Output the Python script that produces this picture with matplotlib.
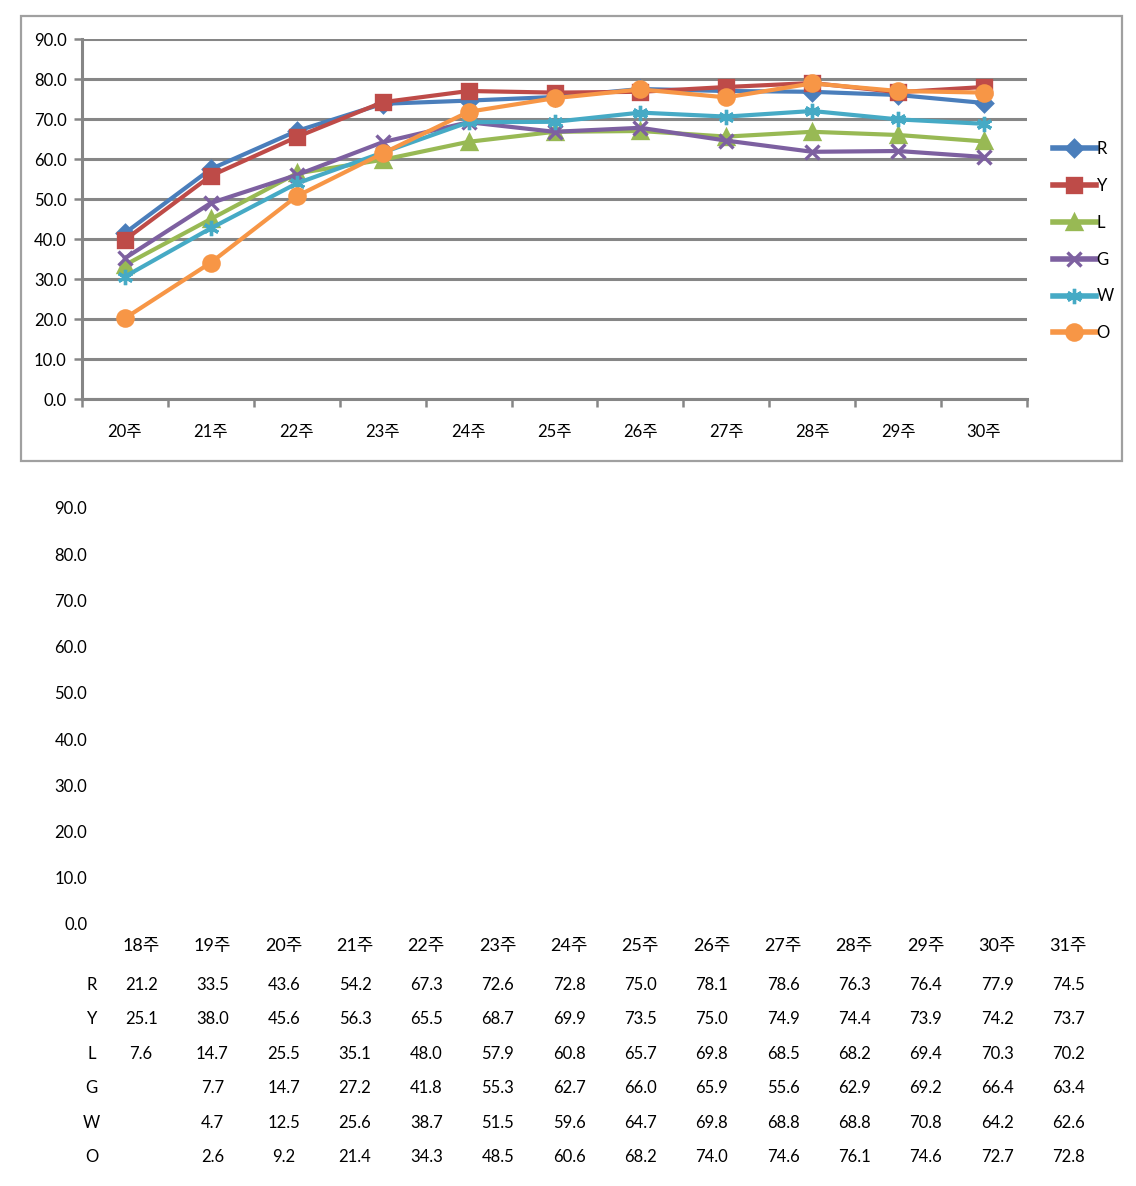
import numpy as np
import matplotlib
matplotlib.use("Agg")
import matplotlib.pyplot as plt
from matplotlib.patches import Rectangle
from matplotlib.lines import Line2D

plt.rcParams['font.family'] = ['Lato', 'Noto Sans CJK KR', 'DejaVu Sans']

# top chart: weeks 20..30
weeks = ['20주', '21주', '22주', '23주', '24주', '25주', '26주', '27주', '28주', '29주', '30주']
names = ['R', 'Y', 'L', 'G', 'W', 'O']
r_vals = [41.5, 57.5, 67.0, 73.8, 74.6, 75.5, 77.5, 77.0, 76.8, 76.0, 74.0]
y_vals = [39.8, 55.8, 65.5, 74.2, 77.0, 76.6, 76.8, 78.0, 79.0, 76.7, 78.0]
l_vals = [33.5, 45.0, 56.4, 59.8, 64.3, 66.8, 67.0, 65.6, 66.8, 66.0, 64.4]
g_vals = [35.2, 49.0, 56.0, 64.2, 69.2, 66.8, 67.8, 64.6, 61.8, 62.0, 60.5]
w_vals = [30.6, 42.7, 53.9, 61.6, 69.2, 69.3, 71.6, 70.6, 72.0, 69.9, 68.8]
o_vals = [20.2, 34.1, 50.7, 61.4, 71.8, 75.2, 77.4, 75.4, 78.9, 77.0, 76.6]

# bottom table: weeks 18..31
t_weeks = ['18주', '19주', '20주', '21주', '22주', '23주', '24주', '25주', '26주',
           '27주', '28주', '29주', '30주', '31주']
t_r = ['21.2', '33.5', '43.6', '54.2', '67.3', '72.6', '72.8', '75.0', '78.1', '78.6', '76.3', '76.4', '77.9', '74.5']
t_y = ['25.1', '38.0', '45.6', '56.3', '65.5', '68.7', '69.9', '73.5', '75.0', '74.9', '74.4', '73.9', '74.2', '73.7']
t_l = ['7.6', '14.7', '25.5', '35.1', '48.0', '57.9', '60.8', '65.7', '69.8', '68.5', '68.2', '69.4', '70.3', '70.2']
t_g = ['', '7.7', '14.7', '27.2', '41.8', '55.3', '62.7', '66.0', '65.9', '55.6', '62.9', '69.2', '66.4', '63.4']
t_w = ['', '4.7', '12.5', '25.6', '38.7', '51.5', '59.6', '64.7', '69.8', '68.8', '68.8', '70.8', '64.2', '62.6']
t_o = ['', '2.6', '9.2', '21.4', '34.3', '48.5', '60.6', '68.2', '74.0', '74.6', '76.1', '74.6', '72.7', '72.8']

colors = ['#4A7EBB', '#BE4B48', '#98B954', '#7D60A0', '#46AAC5', '#F79646']
asterisk = (6, 2, 0)
markers = ['D', 's', '^', 'x', asterisk, 'o']
msizes = [8, 10, 10, 10, 11, 11]

fig = plt.figure(figsize=(11.36, 11.86), dpi=100)

# frame around top chart
fig.patches.append(Rectangle((21 / 1136, 1 - 461 / 1186), 1101 / 1136, 445 / 1186,
                             transform=fig.transFigure, fill=False,
                             edgecolor='#A0A0A0', linewidth=1.6))

ax = fig.add_axes([82 / 1136, 1 - 399 / 1186, 945 / 1136, 360 / 1186])
x = np.arange(len(weeks))
series = [r_vals, y_vals, l_vals, g_vals, w_vals, o_vals]
handles = []
for vals, c, m, ms, n in zip(series, colors, markers, msizes, names):
    ax.plot(x, vals, color=c, lw=3.0, marker=m, ms=ms, mec=c, mfc=c, mew=2.4, zorder=3)
    handles.append(Line2D([], [], color=c, lw=4, marker=m, ms=ms, mec=c, mfc=c, mew=2.4))

ax.set_xlim(-0.5, len(weeks) - 0.5)
ax.set_ylim(0, 90)
ax.set_yticks(np.arange(0, 91, 10))
ax.set_yticklabels([f'{v:.1f}' for v in np.arange(0, 91, 10)], fontsize=12)
ax.set_xticks(x)
ax.set_xticklabels(weeks, fontsize=12)
ax.set_xticks(np.arange(-0.5, len(weeks), 1), minor=True)
ax.tick_params(axis='x', which='major', length=0, pad=18)
ax.tick_params(axis='x', which='minor', length=6, width=1.8, color='#868686', direction='out')
ax.tick_params(axis='y', length=6, width=1.8, color='#868686', pad=5)
ax.grid(axis='y', color='#868686', lw=2.2, zorder=1)
for s in ['top', 'right']:
    ax.spines[s].set_visible(False)
for s in ['left', 'bottom']:
    ax.spines[s].set_color('#868686')
    ax.spines[s].set_linewidth(2.2)

ax.legend(handles, names, loc='upper left', bbox_to_anchor=(1.02, 0.735), frameon=False,
          fontsize=12, handlelength=2.6, handletextpad=0.05, labelspacing=1.25,
          borderaxespad=0)

# bottom: empty chart with data table
ax2 = fig.add_axes([105.4 / 1136, 0, 998.6 / 1136, 678 / 1186])
ax2.set_xlim(-0.5, len(t_weeks) - 0.5)
ax2.set_ylim(90 - 678 / (416 / 90), 90)
ax2.set_yticks(np.arange(0, 91, 10))
ax2.set_yticklabels([f'{v:.1f}' for v in np.arange(0, 91, 10)], fontsize=12)
ax2.tick_params(axis='y', length=0, pad=13)
ax2.set_xticks([])
for s in ax2.spines.values():
    s.set_visible(False)

unit = 416 / 90
ax2.set_facecolor('none')
for i, w in enumerate(t_weeks):
    ax2.text(i, -22 / unit, w, ha='center', va='center', fontsize=13)
rows = [t_r, t_y, t_l, t_g, t_w, t_o]
for j, (n, row) in enumerate(zip(names, rows)):
    yy = -(61 + 34.4 * j) / unit
    ax2.text(-0.69, yy, n, ha='center', va='center', fontsize=12)
    for i, v in enumerate(row):
        ax2.text(i, yy, v, ha='center', va='center', fontsize=12)

fig.savefig('out.png', dpi=100)
